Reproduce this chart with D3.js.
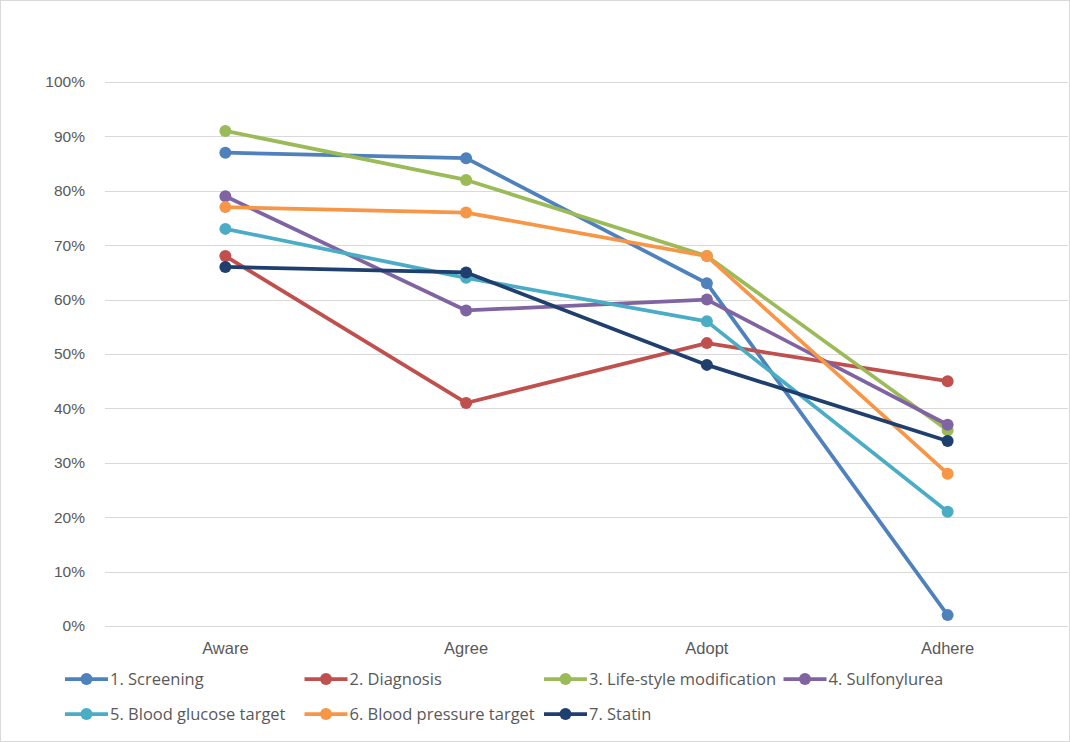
<!DOCTYPE html>
<html>
<head>
<meta charset="utf-8">
<script src="https://cdn.jsdelivr.net/npm/d3@7"></script>
<style>
	body { margin: 0; background: #fff; }
	svg { display: block; font-family: "Open Sans", "Liberation Sans", sans-serif; }
</style>
</head>
<body>
<svg id="chart"></svg>
<script>
var categories = ["Aware", "Agree", "Adopt", "Adhere"];
var seriesNames = ["1. Screening", "2. Diagnosis", "3. Life-style modification", "4. Sulfonylurea",
	"5. Blood glucose target", "6. Blood pressure target", "7. Statin"];
var screening = [87, 86, 63, 2];
var diagnosis = [68, 41, 52, 45];
var lifestyle = [91, 82, 68, 36];
var sulfonylurea = [79, 58, 60, 37];
var glucose = [73, 64, 56, 21];
var pressure = [77, 76, 68, 28];
var statin = [66, 65, 48, 34];
var yTicks = [0, 10, 20, 30, 40, 50, 60, 70, 80, 90, 100];
var colors = ["#4f81bd", "#c0504d", "#9bbb59", "#8064a2", "#4bacc6", "#f79646", "#1f3f6e"];

var width = 1070, height = 742;
var margin = {top: 82, right: 2, bottom: 116, left: 105};
var innerW = width - margin.left - margin.right,
	innerH = height - margin.top - margin.bottom;

var svg = d3.select("#chart")
	.attr("width", width)
	.attr("height", height);

// chart border
svg.append("rect")
	.attr("x", 0.5).attr("y", 0.5)
	.attr("width", width - 1).attr("height", height - 1)
	.attr("fill", "#fff")
	.attr("stroke", "#d9d9d9");

var g = svg.append("g")
	.attr("transform", "translate(" + margin.left + "," + margin.top + ")");

var x = d3.scaleBand()
	.domain(categories)
	.range([0, innerW]);

var y = d3.scaleLinear()
	.domain([0, 100])
	.range([innerH, 0]);

// gridlines
g.append("g")
	.selectAll("line")
	.data(yTicks)
	.enter().append("line")
	.attr("x1", 0)
	.attr("x2", innerW)
	.attr("y1", function(d) { return Math.round(y(d)) + 0.5; })
	.attr("y2", function(d) { return Math.round(y(d)) + 0.5; })
	.attr("stroke", "#d9d9d9")
	.attr("stroke-width", 1);

var yAxis = g.append("g")
	.call(d3.axisLeft(y).tickValues(yTicks).tickSize(0).tickPadding(20)
		.tickFormat(function(d) { return d + "%"; }));
yAxis.select(".domain").remove();
yAxis.selectAll("text")
	.attr("fill", "#595959")
	.style("font-size", "15.5px");

var xAxis = g.append("g")
	.attr("transform", "translate(0," + innerH + ")")
	.call(d3.axisBottom(x).tickSize(0).tickPadding(16));
xAxis.select(".domain").remove();
xAxis.selectAll("text")
	.attr("fill", "#595959")
	.style("font-size", "16.5px");

var seriesData = [screening, diagnosis, lifestyle, sulfonylurea, glucose, pressure, statin]
	.map(function(values, i) {
		return {
			name: seriesNames[i],
			color: colors[i],
			values: values.map(function(v, j) { return { label: categories[j], value: v }; })
		};
	});

var line = d3.line()
	.x(function(d) { return x(d.label) + x.bandwidth() / 2; })
	.y(function(d) { return y(d.value); });

var series = g.selectAll(".series")
	.data(seriesData)
	.enter().append("g")
	.attr("class", "series");

series.append("path")
	.attr("d", function(d) { return line(d.values); })
	.attr("fill", "none")
	.attr("stroke", function(d) { return d.color; })
	.attr("stroke-width", 3.75)
	.attr("stroke-linejoin", "round");

series.selectAll(".point")
	.data(function(d) { return d.values.map(function(v) { return { label: v.label, value: v.value, color: d.color }; }); })
	.enter().append("circle")
	.attr("class", "point")
	.attr("cx", function(d) { return x(d.label) + x.bandwidth() / 2; })
	.attr("cy", function(d) { return y(d.value); })
	.attr("r", 6)
	.attr("fill", function(d) { return d.color; });

// legend, 4 per row
var legend = svg.append("g")
	.selectAll("g")
	.data(seriesData)
	.enter().append("g")
	.attr("transform", function(d, i) {
		return "translate(" + (65 + (i % 4) * 239.5) + "," + (679 + Math.floor(i / 4) * 35) + ")";
	});

legend.append("line")
	.attr("x1", 0).attr("x2", 43)
	.attr("stroke", function(d) { return d.color; })
	.attr("stroke-width", 3.75);

legend.append("circle")
	.attr("cx", 21.5)
	.attr("r", 6)
	.attr("fill", function(d) { return d.color; });

legend.append("text")
	.attr("x", 45)
	.attr("dy", "0.35em")
	.attr("fill", "#595959")
	.style("font-size", "16.5px")
	.text(function(d) { return d.name; });
</script>
</body>
</html>
